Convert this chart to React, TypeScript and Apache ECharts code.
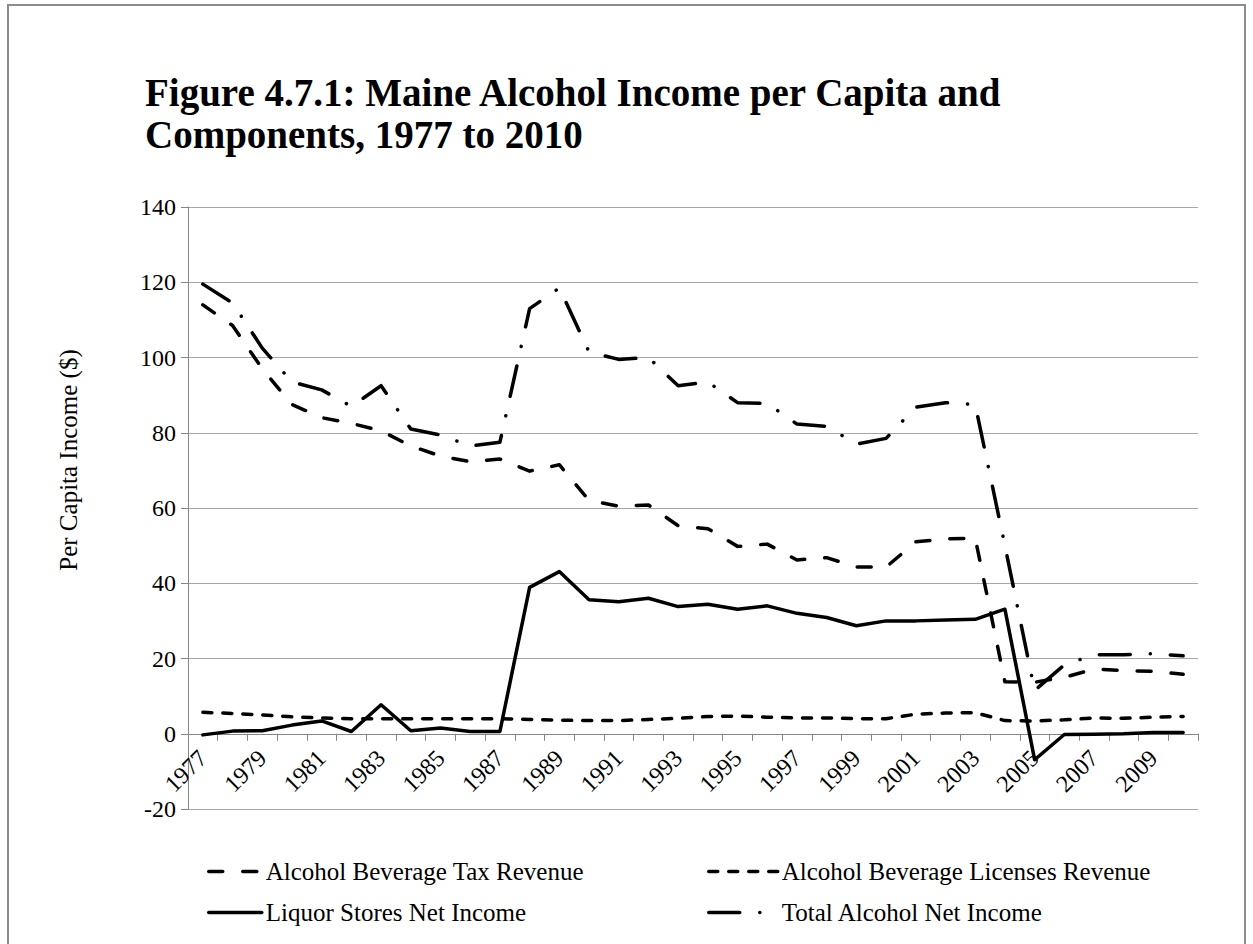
import { useEffect, useRef } from "react";
import * as echarts from "echarts";

const years = [
  "1977", "1978", "1979", "1980", "1981", "1982", "1983", "1984", "1985", "1986",
  "1987", "1988", "1989", "1990", "1991", "1992", "1993", "1994", "1995", "1996",
  "1997", "1998", "1999", "2000", "2001", "2002", "2003", "2004", "2005", "2006",
  "2007", "2008", "2009", "2010",
];

const taxRevenue = [
  114, 108.5, 97, 87.5, 84, 82.5, 80.5, 76.5, 73.8, 72.3,
  73, 69.8, 71.5, 62, 60.5, 60.8, 55.3, 54.5, 49.8, 50.4,
  46.2, 46.8, 44.3, 44.3, 51, 51.8, 52, 13.8, 13.7, 15,
  17.2, 16.8, 16.6, 15.8,
];

const licensesRevenue = [
  5.7, 5.4, 5.0, 4.5, 4.2, 4.0, 4.0, 4.0, 4.0, 4.0,
  4.0, 3.8, 3.6, 3.5, 3.5, 3.8, 4.1, 4.6, 4.7, 4.4,
  4.2, 4.2, 4.0, 4.0, 5.2, 5.5, 5.6, 3.5, 3.4, 3.7,
  4.2, 4.1, 4.4, 4.6,
];

const liquorStores = [
  -0.3, 0.7, 0.8, 2.3, 3.4, 0.6, 7.7, 0.8, 1.5, 0.6,
  0.6, 38.9, 43.1, 35.6, 35.1, 36, 33.8, 34.4, 33.1, 34,
  32, 30.9, 28.7, 30, 30, 30.2, 30.4, 33.1, -6.9, -0.2,
  -0.1, 0, 0.3, 0.3,
];

const totalIncome = [
  119.5, 114.5, 102.5, 93.5, 91.4, 87, 92.5, 81, 79.4, 76.5,
  77.5, 113, 118.5, 101.5, 99.5, 100, 92.5, 93.5, 88, 87.8,
  82.3, 81.7, 77, 78.5, 86.8, 88, 87.5, 50, 11.5, 18.3,
  21, 21, 21.3, 20.7,
];

const seriesNames = [
  "Alcohol Beverage Tax Revenue",
  "Alcohol Beverage Licenses Revenue",
  "Liquor Stores Net Income",
  "Total Alcohol Net Income",
];

const yTicks = { min: -20, max: 140, interval: 20 };

const FONT = "Liberation Serif";

export default function App() {
  const ref = useRef<HTMLDivElement>(null);

  useEffect(() => {
    const chart = echarts.init(ref.current!, null, { renderer: "svg" });
    const lw = 3.5;
    const mkLegend = (name: string, left: number, top: number, itemWidth: number) => ({
      data: [name],
      left,
      top,
      orient: "horizontal",
      padding: 0,
      itemWidth,
      itemHeight: 14,
      textStyle: { fontFamily: FONT, fontSize: 25, color: "#000", padding: [0, 0, 0, -1] },
      lineStyle: { width: lw },
      itemStyle: { opacity: 0 },
      selectedMode: false,
    });

    chart.setOption({
      animation: false,
      backgroundColor: "#fff",
      title: {
        text: "Figure 4.7.1: Maine Alcohol Income per Capita and\nComponents, 1977 to 2010",
        left: 145,
        top: 71,
        padding: 0,
        textStyle: {
          fontFamily: FONT,
          fontSize: 39,
          fontWeight: "bold",
          color: "#000",
          lineHeight: 42,
        },
      },
      grid: { left: 188, right: 55, top: 207, bottom: 135, containLabel: false },
      legend: [
        mkLegend(seriesNames[0], 207, 859, 53),
        mkLegend(seriesNames[1], 707, 859, 69),
        mkLegend(seriesNames[2], 207, 900, 53),
        mkLegend(seriesNames[3], 707, 900, 69),
      ],
      graphic: [
        {
          type: "rect",
          shape: { x: 8, y: 5, width: 1237, height: 960 },
          style: { fill: "none", stroke: "#8c8c8c", lineWidth: 2 },
          silent: true,
        },
        {
          type: "text",
          x: 68,
          y: 460,
          rotation: Math.PI / 2,
          style: {
            text: "Per Capita Income ($)",
            font: `25px ${FONT}`,
            fill: "#000",
            textAlign: "center",
            textVerticalAlign: "middle",
          },
        },
      ],
      xAxis: {
        type: "category",
        data: years,
        boundaryGap: true,
        axisLine: { onZero: true, lineStyle: { color: "#868686", width: 1 } },
        axisTick: {
          show: true,
          interval: 0,
          length: 7,
          alignWithLabel: false,
          lineStyle: { color: "#868686" },
        },
        axisLabel: {
          interval: 1,
          rotate: 45,
          margin: -55,
          fontFamily: FONT,
          fontSize: 24,
          color: "#000",
        },
        splitLine: { show: false },
      },
      yAxis: {
        type: "value",
        min: yTicks.min,
        max: yTicks.max,
        interval: yTicks.interval,
        axisLine: { show: true, lineStyle: { color: "#868686", width: 1 } },
        axisTick: { show: true, length: 7, lineStyle: { color: "#868686" } },
        axisLabel: {
          fontFamily: FONT,
          fontSize: 24,
          color: "#000",
          margin: 12,
        },
        splitLine: { show: true, lineStyle: { color: "#a6a6a6", width: 1 } },
      },
      series: [
        {
          name: seriesNames[0],
          type: "line",
          data: taxRevenue,
          symbol: "none",
          lineStyle: { color: "#000", width: lw, type: [14, 20], cap: "round", join: "round" },
          itemStyle: { color: "#000" },
        },
        {
          name: seriesNames[1],
          type: "line",
          data: licensesRevenue,
          symbol: "none",
          lineStyle: { color: "#000", width: lw, type: [9, 11], cap: "round", join: "round" },
          itemStyle: { color: "#000" },
        },
        {
          name: seriesNames[2],
          type: "line",
          data: liquorStores,
          symbol: "none",
          lineStyle: { color: "#000", width: lw, type: "solid", cap: "round", join: "round" },
          itemStyle: { color: "#000" },
        },
        {
          name: seriesNames[3],
          type: "line",
          data: totalIncome,
          symbol: "none",
          lineStyle: { color: "#000", width: lw, type: [31, 20, 0.1, 20], cap: "round", join: "round" },
          itemStyle: { color: "#000" },
        },
      ],
    });

    return () => chart.dispose();
  }, []);

  return (
    <div
      ref={ref}
      style={{ position: "absolute", left: 0, top: 0, width: 1253, height: 944, background: "#fff" }}
    />
  );
}
